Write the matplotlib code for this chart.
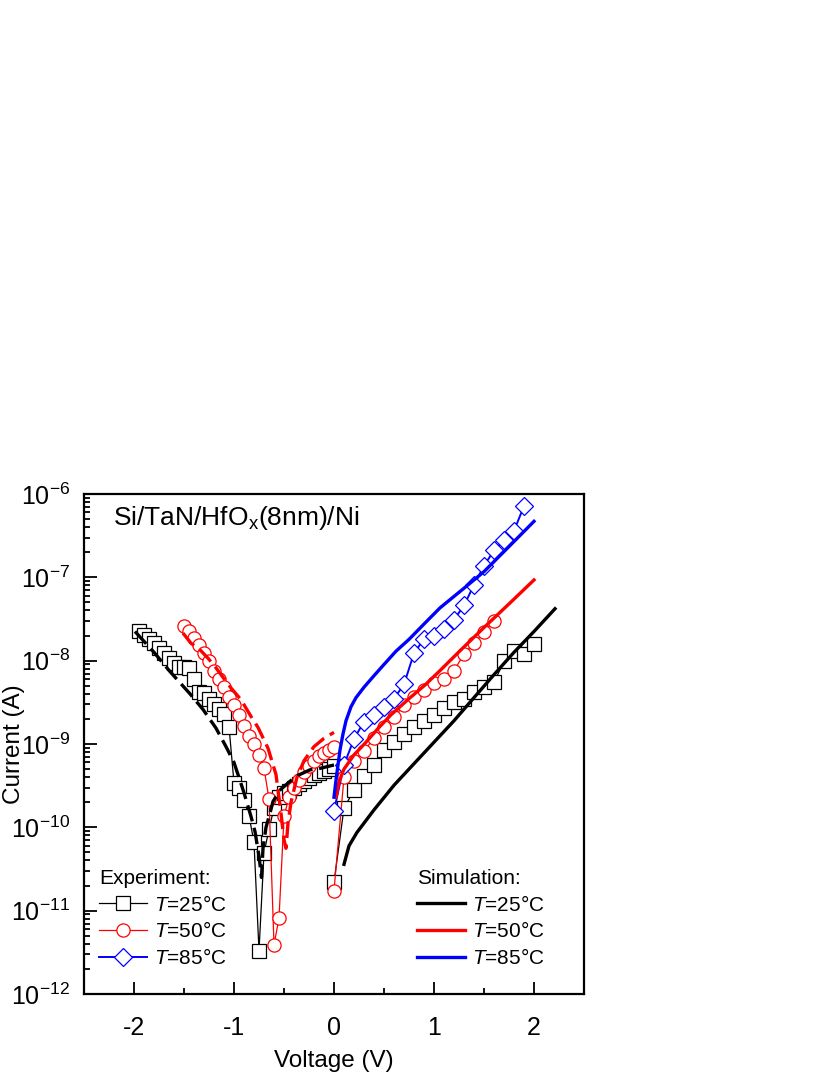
import numpy as np
import matplotlib
matplotlib.use('Agg')
import matplotlib.pyplot as plt
from matplotlib.ticker import MultipleLocator, LogLocator, NullFormatter

plt.rcParams['font.family'] = ['Liberation Sans', 'DejaVu Sans']
plt.rcParams['mathtext.fontset'] = 'custom'
plt.rcParams['mathtext.rm'] = 'Liberation Sans'
plt.rcParams['mathtext.it'] = 'Liberation Sans:italic'
plt.rcParams['mathtext.bf'] = 'Liberation Sans:bold'
plt.rcParams['axes.unicode_minus'] = False

# ===== experiment, T=25C =====
v25_neg = [-1.95, -1.90, -1.85, -1.80, -1.75, -1.70, -1.65, -1.60, -1.55, -1.50,
           -1.45, -1.40, -1.35, -1.30, -1.25, -1.20, -1.15, -1.10, -1.05, -1.00,
           -0.95, -0.90, -0.85, -0.80, -0.75, -0.70, -0.65, -0.60, -0.55, -0.50,
           -0.45, -0.40, -0.35, -0.30, -0.25, -0.20, -0.15, -0.10, -0.05, 0.00]
i25_neg = [2.29e-8, 2.04e-8, 1.82e-8, 1.62e-8, 1.41e-8, 1.23e-8, 1.07e-8, 9.3e-9, 8.3e-9, 8.5e-9,
           8.1e-9, 6.0e-9, 4.2e-9, 4.1e-9, 3.5e-9, 3.0e-9, 2.6e-9, 2.3e-9, 1.62e-9, 3.4e-10,
           2.95e-10, 2.14e-10, 1.38e-10, 6.6e-11, 3.3e-12, 4.9e-11, 9.5e-11, 1.7e-10, 2.3e-10, 2.6e-10,
           2.75e-10, 3.0e-10, 3.3e-10, 3.6e-10, 3.9e-10, 4.2e-10, 4.5e-10, 4.8e-10, 5.0e-10, 5.5e-10]
v25_pos = [0.0, 0.1, 0.2, 0.3, 0.4, 0.5, 0.6, 0.7, 0.8, 0.9, 1.0,
           1.1, 1.2, 1.3, 1.4, 1.5, 1.6, 1.7, 1.8, 1.9, 2.0]
i25_pos = [2.2e-11, 1.7e-10, 2.8e-10, 4.1e-10, 5.6e-10, 8.5e-10, 1.07e-9, 1.32e-9, 1.58e-9, 1.9e-9, 2.24e-9,
           2.7e-9, 3.2e-9, 3.5e-9, 4.2e-9, 4.8e-9, 5.5e-9, 9.8e-9, 1.29e-8, 1.2e-8, 1.58e-8]

# ===== experiment, T=50C =====
v50_neg = [-1.50, -1.45, -1.40, -1.35, -1.30, -1.25, -1.20, -1.15, -1.10, -1.05,
           -1.00, -0.95, -0.90, -0.85, -0.80, -0.75, -0.70, -0.65, -0.60, -0.55,
           -0.50, -0.45, -0.40, -0.35, -0.30, -0.25, -0.20, -0.15, -0.10, -0.05, 0.00]
i50_neg = [2.63e-8, 2.29e-8, 1.86e-8, 1.55e-8, 1.23e-8, 9.8e-9, 7.6e-9, 6.0e-9, 4.8e-9, 3.7e-9,
           2.9e-9, 2.2e-9, 1.66e-9, 1.26e-9, 1.0e-9, 7.4e-10, 5.1e-10, 2.2e-10, 3.9e-12, 8.1e-12,
           1.35e-10, 2.3e-10, 2.95e-10, 3.7e-10, 4.6e-10, 5.5e-10, 6.3e-10, 7.1e-10, 7.9e-10, 8.5e-10, 9.1e-10]
v50_pos = [0.0, 0.1, 0.2, 0.3, 0.4, 0.5, 0.6, 0.7, 0.8, 0.9, 1.0,
           1.1, 1.2, 1.3, 1.4, 1.5, 1.6]
i50_pos = [1.74e-11, 4.0e-10, 6.2e-10, 8.3e-10, 1.17e-9, 1.58e-9, 2.1e-9, 2.9e-9, 3.7e-9, 4.5e-9, 5.4e-9,
           6.0e-9, 7.6e-9, 1.2e-8, 1.62e-8, 2.2e-8, 3.0e-8]

# ===== experiment, T=85C =====
v85_pos = [0.0, 0.1, 0.2, 0.3, 0.4, 0.5, 0.6, 0.7, 0.8, 0.9,
           1.0, 1.1, 1.2, 1.3, 1.4, 1.5, 1.6, 1.7, 1.8, 1.9]
i85_pos = [1.58e-10, 5.6e-10, 1.15e-9, 1.86e-9, 2.24e-9, 2.75e-9, 3.5e-9, 5.2e-9, 1.23e-8, 1.82e-8,
           1.95e-8, 2.4e-8, 3.1e-8, 4.6e-8, 8.1e-8, 1.38e-7, 2.1e-7, 2.8e-7, 3.6e-7, 7.2e-7]

# ===== simulation =====
vs25_pos = [0.10, 0.15, 0.23, 0.40, 0.60, 0.80, 1.00, 1.20, 1.40, 1.60, 1.80, 2.00, 2.21]
is25_pos = [3.6e-11, 6.0e-11, 8.7e-11, 1.62e-10, 3.2e-10, 5.8e-10, 1.05e-9, 1.9e-9, 3.6e-9,
            6.8e-9, 1.26e-8, 2.24e-8, 4.2e-8]
vs25_neg = [-1.99, -1.80, -1.64, -1.44, -1.31, -1.18, -1.08, -1.00, -0.96, -0.90, -0.83, -0.79,
            -0.75, -0.725, -0.71, -0.68, -0.64, -0.61, -0.54, -0.46, -0.38, -0.24, -0.14, 0.00]
is25_neg = [2.24e-8, 1.26e-8, 7.4e-9, 4.0e-9, 2.6e-9, 1.55e-9, 9.3e-10, 6.0e-10, 4.3e-10, 2.6e-10,
            1.35e-10, 8.9e-11, 4.5e-11, 2.5e-11, 5.6e-11, 1.0e-10, 1.48e-10, 2.04e-10, 2.8e-10,
            3.4e-10, 4.1e-10, 4.9e-10, 5.1e-10, 5.6e-10]

vs50_pos = [0.02, 0.05, 0.10, 0.20, 0.31, 0.45, 0.57, 0.75, 0.91, 1.06, 1.27, 1.50, 1.75, 2.00]
is50_pos = [2.3e-10, 3.5e-10, 5.0e-10, 7.4e-10, 1.02e-9, 1.58e-9, 2.24e-9, 3.5e-9, 5.1e-9,
            7.6e-9, 1.35e-8, 2.5e-8, 4.8e-8, 9.3e-8]
vs50_neg = [-1.51, -1.43, -1.34, -1.26, -1.19, -1.13, -1.03, -0.93, -0.84, -0.76, -0.66, -0.58,
            -0.53, -0.50, -0.48, -0.46, -0.43, -0.37, -0.30, -0.20, -0.10, 0.00]
is50_neg = [2.14e-8, 1.62e-8, 1.35e-8, 1.07e-8, 8.5e-9, 6.8e-9, 4.7e-9, 3.4e-9, 2.24e-9, 1.58e-9,
            8.9e-10, 4.3e-10, 1.48e-10, 7.1e-11, 5.6e-11, 1.12e-10, 2.0e-10, 4.0e-10, 6.3e-10,
            9.3e-10, 1.17e-9, 1.38e-9]

vs85_pos = [0.00, 0.02, 0.04, 0.06, 0.09, 0.12, 0.17, 0.22, 0.30, 0.40, 0.50, 0.62, 0.75,
            0.90, 1.06, 1.30, 1.50, 1.75, 2.00]
is85_pos = [2.3e-10, 3.7e-10, 5.6e-10, 8.5e-10, 1.32e-9, 1.9e-9, 2.8e-9, 3.6e-9, 4.8e-9,
            6.6e-9, 9.0e-9, 1.3e-8, 1.8e-8, 2.75e-8, 4.3e-8, 7.4e-8, 1.17e-7, 2.34e-7, 4.7e-7]

fig = plt.figure(figsize=(8.3, 10.75), dpi=100)
ax = fig.add_axes([84 / 830, 81 / 1075, 500 / 830, 500 / 1075])

exp_style = dict(lw=0.9, ms=9.5, mfc='white', mew=0.9)
h25, = ax.plot(v25_neg, i25_neg, 's-', color='black', zorder=3, **exp_style)
ax.plot(v25_pos, i25_pos, 's-', color='black', zorder=3, **exp_style)
h50, = ax.plot(v50_neg, i50_neg, 'o-', color='red', zorder=3.1, **exp_style)
ax.plot(v50_pos, i50_pos, 'o-', color='red', zorder=3.1, **exp_style)
h85, = ax.plot(v85_pos, i85_pos, 'D-', color='blue', zorder=3.2,
               lw=1.4, ms=9, mfc='white', mew=0.9)

s25, = ax.plot(vs25_pos, is25_pos, '-', color='black', lw=2.4, zorder=4)
ax.plot(vs25_neg, is25_neg, '--', color='black', lw=2.4, dashes=(5, 2), zorder=4)
s50, = ax.plot(vs50_pos, is50_pos, '-', color='red', lw=2.4, zorder=4)
ax.plot(vs50_neg, is50_neg, '--', color='red', lw=2.4, dashes=(5, 2), zorder=4)
s85, = ax.plot(vs85_pos, is85_pos, '-', color='blue', lw=2.4, zorder=4)

ax.set_yscale('log')
ax.set_xlim(-2.5, 2.5)
ax.set_ylim(1e-12, 1e-6)
ax.xaxis.set_major_locator(MultipleLocator(1))
ax.xaxis.set_minor_locator(MultipleLocator(0.5))
ax.yaxis.set_major_locator(LogLocator(base=10, numticks=10))
ax.yaxis.set_minor_locator(LogLocator(base=10, subs=np.arange(2, 10), numticks=20))
ax.yaxis.set_minor_formatter(NullFormatter())

ax.tick_params(which='both', direction='in', top=False, right=False, width=1.3, labelsize=18)
ax.tick_params(which='major', length=9)
ax.tick_params(which='minor', length=4.5)
ax.tick_params(axis='x', which='major', pad=16)
ax.tick_params(axis='y', which='major', pad=10)
for sp in ax.spines.values():
    sp.set_linewidth(1.6)

ax.set_xlabel('Voltage (V)', fontsize=17.5, labelpad=7)
ax.set_ylabel('Current (A)', fontsize=17.5)
ax.yaxis.set_label_coords(-0.118, 0.5)

ax.text(0.058, 0.938, 'Si/TaN/HfO$_{\\rm x}$(8nm)/Ni', transform=ax.transAxes,
        fontsize=19, va='baseline')

labels = ['$\\mathit{T}$=25°C', '$\\mathit{T}$=50°C', '$\\mathit{T}$=85°C']
leg_kw = dict(loc='lower left', frameon=False, fontsize=15, title_fontsize=15,
              alignment='left', handlelength=2.3, handletextpad=0.35,
              labelspacing=0.32, borderaxespad=0, borderpad=0, numpoints=1)
leg1 = ax.legend([h25, h50, h85], labels, title='Experiment:',
                 bbox_to_anchor=(0.03, 0.052), **leg_kw)
ax.add_artist(leg1)
ax.legend([s25, s50, s85], labels, title='Simulation:',
          bbox_to_anchor=(0.666, 0.052), **leg_kw)

fig.savefig('out.png', dpi=100)
